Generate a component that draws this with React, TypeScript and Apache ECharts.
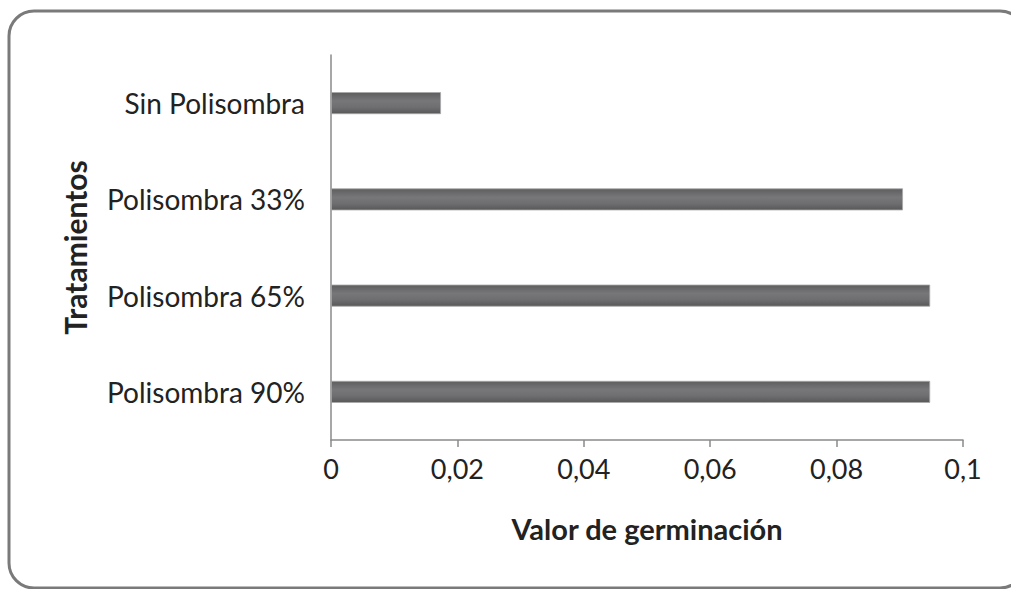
import React, { useEffect, useRef } from "react";
import * as echarts from "echarts";

const categories = ["Polisombra 90%", "Polisombra 65%", "Polisombra 33%", "Sin Polisombra"];
const values = [0.0948, 0.0948, 0.0905, 0.0174];
const xTicks = [0, 0.02, 0.04, 0.06, 0.08, 0.1];

export default function App() {
  const ref = useRef<HTMLDivElement>(null);
  useEffect(() => {
    const chart = echarts.init(ref.current!, undefined, { renderer: "svg" });
    const font = "Lato, 'Open Sans', sans-serif";
    chart.setOption({
      animation: false,
      backgroundColor: "#ffffff",
      grid: { left: 331, top: 55, right: 48, bottom: 149, containLabel: false },
      xAxis: {
        type: "value",
        min: 0,
        max: 0.1,
        interval: 0.02,
        name: "Valor de germinación",
        nameLocation: "middle",
        nameGap: 74,
        nameTextStyle: { fontFamily: font, fontSize: 29, fontWeight: "bold", color: "#222" },
        axisLine: { show: true, lineStyle: { color: "#8a8a8a", width: 1.5 } },
        axisTick: { show: true, length: 7, lineStyle: { color: "#8a8a8a", width: 1.5 } },
        splitLine: { show: false },
        axisLabel: {
          fontFamily: font,
          fontSize: 27,
          color: "#222",
          margin: 15,
          formatter: (v: number) => {
            const t = xTicks.find((x) => Math.abs(x - v) < 1e-9);
            return String(t ?? v).replace(".", ",");
          },
        },
      },
      yAxis: {
        type: "category",
        data: categories,
        name: "Tratamientos",
        nameLocation: "middle",
        nameGap: 241,
        nameRotate: 90,
        nameTextStyle: { fontFamily: font, fontSize: 30, fontWeight: "bold", color: "#222" },
        axisLine: { show: true, lineStyle: { color: "#8a8a8a", width: 1.5 } },
        axisTick: { show: false },
        axisLabel: { fontFamily: font, fontSize: 28, color: "#222", margin: 26 },
      },
      series: [
        {
          type: "bar",
          data: values,
          barWidth: 22,
          itemStyle: {
            color: new echarts.graphic.LinearGradient(0, 0, 0, 1, [
              { offset: 0, color: "#5e5e60" },
              { offset: 0.4, color: "#77777a" },
              { offset: 0.7, color: "#6e6e70" },
              { offset: 1, color: "#58585a" },
            ]),
            borderColor: "#a8a8aa",
            borderWidth: 0.8,
          },
        },
      ],
      graphic: [
        {
          type: "rect",
          shape: { x: 9, y: 11, width: 1016, height: 577, r: 25 },
          style: { fill: "none", stroke: "#7a7a7a", lineWidth: 3 },
          silent: true,
          z: 100,
        },
      ],
    });
    return () => chart.dispose();
  }, []);
  return <div ref={ref} style={{ width: 1011, height: 589, position: "absolute", left: 0, top: 0 }} />;
}
